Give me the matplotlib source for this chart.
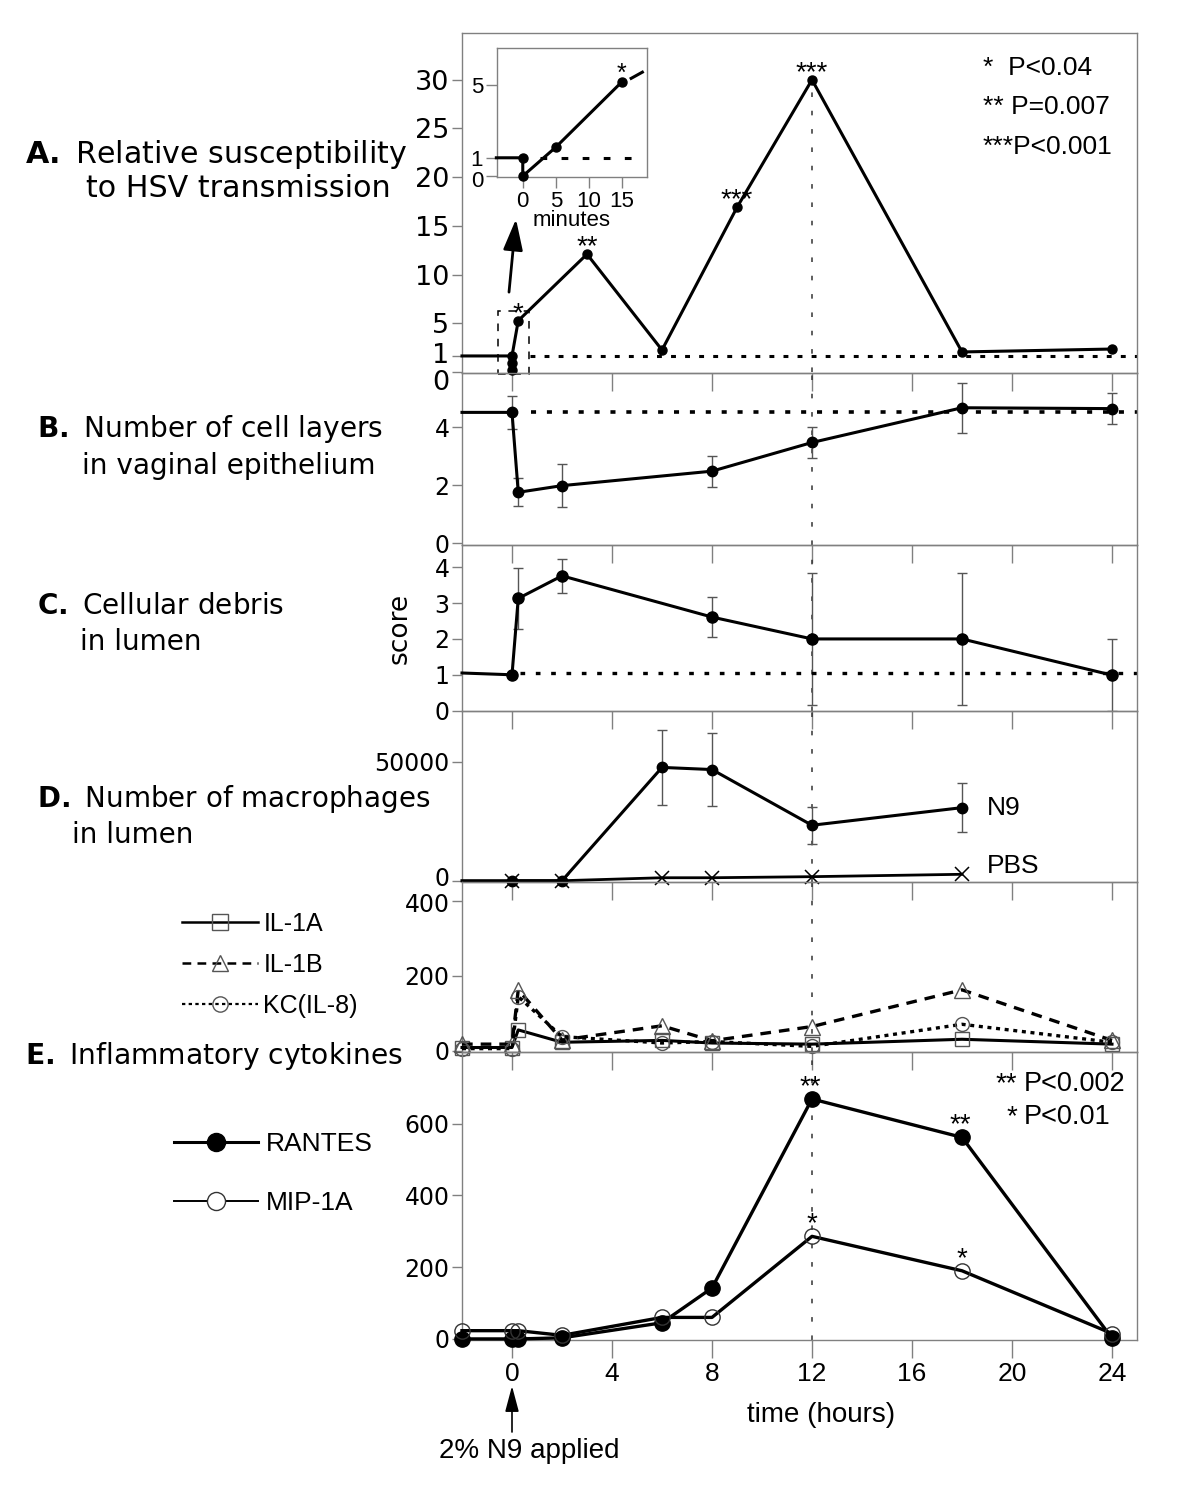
import matplotlib
matplotlib.use('Agg')
import matplotlib.pyplot as plt
import matplotlib.transforms as mtrans
from matplotlib.lines import Line2D
from matplotlib.patches import Rectangle

W, H = 1200, 1505
fig = plt.figure(figsize=(12, 15.05), dpi=100)
SANS = ['Liberation Sans', 'DejaVu Sans']

# ---------------- data ----------------
hours_A = [-2, 0, 0.25, 3, 6, 9, 12, 18, 24]
susc_A = [1.65, 1.65, 5.27, 12.1, 2.26, 16.9, 30.0, 2.06, 2.36]
hours_A0 = [0, 0]
susc_A0 = [0.9, 0.2]
sig_A_hours = [0.25, 3, 9, 12]
sig_A_vals = [5.27, 12.1, 16.9, 30.0]
sig_A_text = ['*', '**', '***', '***']
pvals_A = ['*  P<0.04', '** P=0.007', '***P<0.001']

inset_min = [-4, 0, 0, 5, 15]
inset_val = [1.0, 1.0, 0.0, 1.58, 5.15]
inset_tail_min = [16.2, 18.3]
inset_tail_val = [5.3, 5.72]

hours_B = [-2, 0, 0.25, 2, 8, 12, 18, 24]
layers_B = [4.52, 4.52, 1.76, 1.99, 2.49, 3.48, 4.68, 4.65]
err_B = [0, 0.58, 0.49, 0.745, 0.535, 0.525, 0.865, 0.53]

hours_C = [-2, 0, 0.25, 2, 8, 12, 18, 24]
debris_C = [1.05, 1.0, 3.13, 3.76, 2.61, 2.0, 2.0, 0.99]
err_C = [0, 0, 0.85, 0.47, 0.55, 1.85, 1.85, 1.0]

hours_D = [-2, 0, 2, 6, 8, 12, 18]
n9_D = [0, 0, 0, 47600, 46700, 23300, 30700]
err_D = [0, 0, 0, 15700, 15400, 7800, 10300]
hours_PBS = [0, 2, 6, 8, 12, 18]
pbs_D = [0, 0, 1250, 1250, 1700, 2700]

hours_E = [-2, 0, 0.25, 2, 6, 8, 12, 18, 24]
il1a = [8, 8, 55, 22, 27, 20, 17, 30, 17]
il1b = [17, 17, 162, 28, 66, 26, 64, 162, 27]
kc = [5, 5, 144, 37, 20, 24, 11, 70, 22]
rantes = [0, 0, 0, 3, 45, 142, 669, 562, 2]
mip = [23, 23, 23, 10, 60, 60, 286, 190, 15]
sig_E_hours = [12, 18]
sig_R_text = ['**', '**']
sig_M_text = ['*', '*']
pvals_E_stars = ['**', '*']
pvals_E = ['P<0.002', 'P<0.01']

xticks = [0, 4, 8, 12, 16, 20, 24]
GRAY = '#808080'


def fx(x):
    return x / W


def fy(y):
    return 1 - y / H


def add_ax(top, bottom):
    return fig.add_axes([fx(462), fy(bottom), (1137 - 462) / W, (bottom - top) / H])


def style(ax, ysize=17):
    for s in ax.spines.values():
        s.set_color(GRAY)
        s.set_linewidth(1.0)
    ax.set_facecolor('none')
    ax.set_xlim(-2, 25)
    ax.set_xticks(xticks)
    ax.tick_params(axis='x', direction='out', length=13, width=1, color=GRAY,
                   labelbottom=False)
    ax.tick_params(axis='y', direction='out', length=7, width=1, color=GRAY,
                   pad=2, labelsize=ysize)


def shift_label(ax, idx, dy_px):
    lab = ax.yaxis.get_major_ticks()[idx].label1
    lab.set_transform(lab.get_transform() +
                      mtrans.ScaledTranslation(0, dy_px / 100, fig.dpi_scale_trans))


def vline12(ax):
    ax.axvline(12, color='#333333', lw=1.1, ls=(0, (3, 9)), zorder=1)


# ---------------- panel A ----------------
axA = add_ax(33, 373)
style(axA, ysize=19.5)
axA.set_ylim(-0.1, 34.8)
axA.set_yticks([0, susc_A[0], 5, 10, 15, 20, 25, 30])
axA.set_yticklabels(['0', '1', '5', '10', '15', '20', '25', '30'])
shift_label(axA, 0, -8)
shift_label(axA, 1, 3)
axA.plot(hours_A, susc_A, color='k', lw=2.2, marker='o', ms=6.5,
         markevery=list(range(1, len(hours_A))), clip_on=False, zorder=3)
axA.plot(hours_A0, susc_A0, ls='none', color='k', marker='o', ms=6.5, clip_on=False, zorder=3)
axA.hlines(susc_A[0], 0.7, 25, color='k', lw=2.2, ls=(0, (1.6, 3.0)))
axA.vlines(12, 0, susc_A[6], color='#333333', lw=1.1, ls=(0, (3, 9)), zorder=1)
for hx, vy, s in zip(sig_A_hours, sig_A_vals, sig_A_text):
    axA.annotate(s, (hx, vy), xytext=(0, 5), textcoords='offset points',
                 ha='center', va='center', fontsize=20, family=SANS)
axA.add_patch(Rectangle((-0.56, -0.2), 1.24, 6.47, fill=False, ec='k', lw=1.1,
                        ls=(0, (5, 5)), clip_on=False))
axA.annotate('', xy=(0.16, 15.7), xytext=(-0.12, 8.2),
             arrowprops=dict(arrowstyle='-|>,head_length=0.95,head_width=0.3',
                             color='k', lw=2, mutation_scale=20, shrinkA=0, shrinkB=0))
for i, t in enumerate(pvals_A):
    fig.text(fx(983), fy(68 + 39.5 * i), t, ha='left', va='center', fontsize=19, family=SANS)

# ---------------- panel B ----------------
axB = add_ax(373, 545)
style(axB)
axB.set_ylim(-0.06, 5.88)
axB.set_yticks([0, 2, 4])
axB.errorbar(hours_B[1:], layers_B[1:], yerr=err_B[1:], fmt='none', ecolor='#555555',
             elinewidth=1, capsize=3.5, capthick=1)
axB.plot(hours_B, layers_B, color='k', lw=2.2, marker='o', ms=7.5,
         markevery=list(range(1, len(hours_B))), clip_on=False, zorder=3)
axB.hlines(layers_B[0], 0.75, 25, color='k', lw=2.6, ls=(0, (1.4, 3.0)))
vline12(axB)

# ---------------- panel C ----------------
axC = add_ax(545, 711)
style(axC)
axC.set_ylim(-0.01, 4.62)
axC.set_yticks([0, 1, 2, 3, 4])
axC.errorbar(hours_C[2:], debris_C[2:], yerr=err_C[2:], fmt='none', ecolor='#555555',
             elinewidth=1, capsize=3.5, capthick=1)
axC.plot(hours_C, debris_C, color='k', lw=2.2, marker='o', ms=8,
         markevery=list(range(1, len(hours_C))), clip_on=False, zorder=3)
axC.hlines(debris_C[0], 0.3, 25, color='k', lw=2.4, ls=(0, (1.4, 3.2)))
vline12(axC)

# ---------------- panel D ----------------
axD = add_ax(711, 882)
style(axD)
axD.set_ylim(-540, 71300)
axD.set_yticks([0, 50000])
shift_label(axD, 0, 4)
axD.errorbar(hours_D[3:], n9_D[3:], yerr=err_D[3:], fmt='none', ecolor='#555555',
             elinewidth=1, capsize=3.5, capthick=1)
axD.plot(hours_D, n9_D, color='k', lw=2.2, marker='o', ms=7.5,
         markevery=list(range(1, len(hours_D))), clip_on=False, zorder=3)
axD.plot(hours_PBS, pbs_D, color='k', lw=2.0, marker='x', ms=10, mew=1.1, zorder=4,
         clip_on=False)
axD.text(19.0, n9_D[-1], 'N9', ha='left', va='center', fontsize=19, family=SANS)
axD.text(19.0, 6300, 'PBS', ha='left', va='center', fontsize=19, family=SANS)
vline12(axD)

# ---------------- panel E1 ----------------
axE1 = add_ax(882, 1052)
style(axE1)
axE1.set_ylim(-4, 450)
axE1.set_yticks([0, 200, 400])
shift_label(axE1, 2, -2)
axE1.plot(hours_E, il1a, color='k', lw=2.2, marker='s', ms=10, mfc='none',
          mec='#555555', mew=1, clip_on=False, zorder=3)
axE1.plot(hours_E, il1b, color='k', lw=2.4, ls=(0, (3.2, 2.4)), marker='^', ms=11,
          mfc='none', mec='#555555', mew=1, clip_on=False, zorder=3)
axE1.plot(hours_E, kc, color='k', lw=2.4, ls=(0, (1.2, 1.4)), marker='o', ms=10,
          mfc='none', mec='#555555', mew=1, clip_on=False, zorder=3)
vline12(axE1)
h1 = [Line2D([], [], color='k', lw=1.8, marker='s', ms=11, mfc='none', mec='#555555', mew=1),
      Line2D([], [], color='k', lw=1.8, ls=(0, (3.5, 2.5)), marker='^', ms=11, mfc='none',
             mec='#555555', mew=1),
      Line2D([], [], color='k', lw=1.6, ls=(0, (1.5, 1.5)), marker='o', ms=11, mfc='none',
             mec='#555555', mew=1)]
fig.legend(h1, ['IL-1A', 'IL-1B', 'KC(IL-8)'], loc='upper left',
           bbox_to_anchor=(fx(182), fy(912)), bbox_transform=fig.transFigure,
           frameon=False, prop={'family': SANS, 'size': 18}, handlelength=3.05,
           handletextpad=0.2, labelspacing=0.67, borderpad=0, borderaxespad=0)

# ---------------- panel E2 ----------------
axE2 = add_ax(1052, 1340)
style(axE2)
axE2.set_ylim(-3, 800)
axE2.set_yticks([0, 200, 400, 600])
axE2.plot(hours_E, rantes, color='k', lw=2.4, marker='o', ms=11, clip_on=False, zorder=3)
axE2.plot(hours_E, mip, color='k', lw=2.4, marker='o', ms=11, mfc='none', mec='#333333',
          mew=1, clip_on=False, zorder=3)
vline12(axE2)
for hx, s in zip(sig_E_hours, sig_R_text):
    axE2.annotate(s, (hx, rantes[hours_E.index(hx)]), xytext=(-1, 8.5),
                  textcoords='offset points', ha='center', va='center', fontsize=20, family=SANS)
for hx, s in zip(sig_E_hours, sig_M_text):
    axE2.annotate(s, (hx, mip[hours_E.index(hx)]), xytext=(0, 8.5),
                  textcoords='offset points', ha='center', va='center', fontsize=20, family=SANS)
for i, (st, t) in enumerate(zip(pvals_E_stars, pvals_E)):
    fig.text(fx(1017), fy(1084 + 33 * i), st, ha='right', va='center', fontsize=20, family=SANS)
    fig.text(fx(1024), fy(1084 + 33 * i), t, ha='left', va='center', fontsize=19.5, family=SANS)
axE2.tick_params(axis='x', labelbottom=True, labelsize=19, pad=3)
for lbl in axE2.get_xticklabels():
    lbl.set_family(SANS)
axE2.set_xlabel('time (hours)', fontsize=20, family=SANS)
axE2.xaxis.set_label_coords((821 - 462) / 675, (1340 - 1402) / 288)
h2 = [Line2D([], [], color='k', lw=2.2, marker='o', ms=13),
      Line2D([], [], color='k', lw=1.4, marker='o', ms=13, mfc='white', mec='#333333', mew=1)]
fig.legend(h2, ['RANTES', 'MIP-1A'], loc='upper left',
           bbox_to_anchor=(fx(174), fy(1132)), bbox_transform=fig.transFigure,
           frameon=False, prop={'family': SANS, 'size': 19}, handlelength=3.2,
           handletextpad=0.3, labelspacing=1.32, borderpad=0, borderaxespad=0)
axE2.annotate('', xy=(0, fy(1386)), xycoords=('data', 'figure fraction'),
              xytext=(0, fy(1432)), textcoords=('data', 'figure fraction'),
              arrowprops=dict(arrowstyle='-|>,head_length=1.05,head_width=0.28',
                              color='k', lw=1.2, mutation_scale=15, shrinkA=0, shrinkB=0))
axE2.annotate('2% N9 applied', xy=(0.7, fy(1451)), xycoords=('data', 'figure fraction'),
              ha='center', va='center', fontsize=20, family=SANS)

# ---------------- inset ----------------
axI = fig.add_axes([fx(497), fy(177), 150 / W, 129 / H])
axI.set_facecolor('white')
for s in axI.spines.values():
    s.set_color(GRAY)
    s.set_linewidth(1.0)
axI.set_xlim(-3.9, 18.8)
axI.set_ylim(-0.05, 7.0)
axI.set_xticks([0, 5, 10, 15])
axI.set_yticks([0, 1, 5])
axI.tick_params(direction='out', length=8, width=1, color=GRAY, labelsize=16, pad=2)
for lbl in axI.get_xticklabels() + axI.get_yticklabels():
    lbl.set_family(SANS)
shift_label(axI, 0, -3)
axI.plot(inset_min, inset_val, color='k', lw=2.2, marker='o', ms=6.5,
         markevery=list(range(1, len(inset_min))), clip_on=False, zorder=3)
axI.plot(inset_tail_min, inset_tail_val, color='k', lw=2.2, solid_capstyle='butt', clip_on=False)
axI.hlines(inset_val[0], 2.6, 17.2, color='k', lw=2.2, ls=(0, (2.2, 4.7)))
axI.annotate('*', (15, inset_val[-1]), xytext=(0, 6), textcoords='offset points',
             ha='center', va='center', fontsize=18, family=SANS)
axI.set_xlabel('minutes', fontsize=16, family=SANS, labelpad=-1)

# ---------------- left labels ----------------
fig.text(fx(400), fy(628), 'score', rotation=90, ha='center', va='center', fontsize=19)

renderer = fig.canvas.get_renderer()
labels = [
    ((25, 163, r'$\mathbf{A.}$ Relative susceptibility', 382), (86, 197, 'to HSV transmission')),
    ((37, 437, r'$\mathbf{B.}$ Number of cell layers', 346), (82, 474, 'in vaginal epithelium')),
    ((37, 614, r'$\mathbf{C.}$ Cellular debris', 247), (80, 650, 'in lumen')),
    ((37, 807, r'$\mathbf{D.}$ Number of macrophages', 393), (72, 843, 'in lumen')),
    ((25, 1064, r'$\mathbf{E.}$ Inflammatory cytokines', 378), None),
]
for first, second in labels:
    x, y, s, w = first
    t = fig.text(fx(x), fy(y), s, ha='left', va='baseline', fontsize=20)
    bb = t.get_window_extent(renderer)
    fs = 20 * w / bb.width
    t.set_fontsize(fs)
    if second is not None:
        x2, y2, s2 = second
        fig.text(fx(x2), fy(y2), s2, ha='left', va='baseline', fontsize=fs)

fig.savefig('out.png', dpi=100)
